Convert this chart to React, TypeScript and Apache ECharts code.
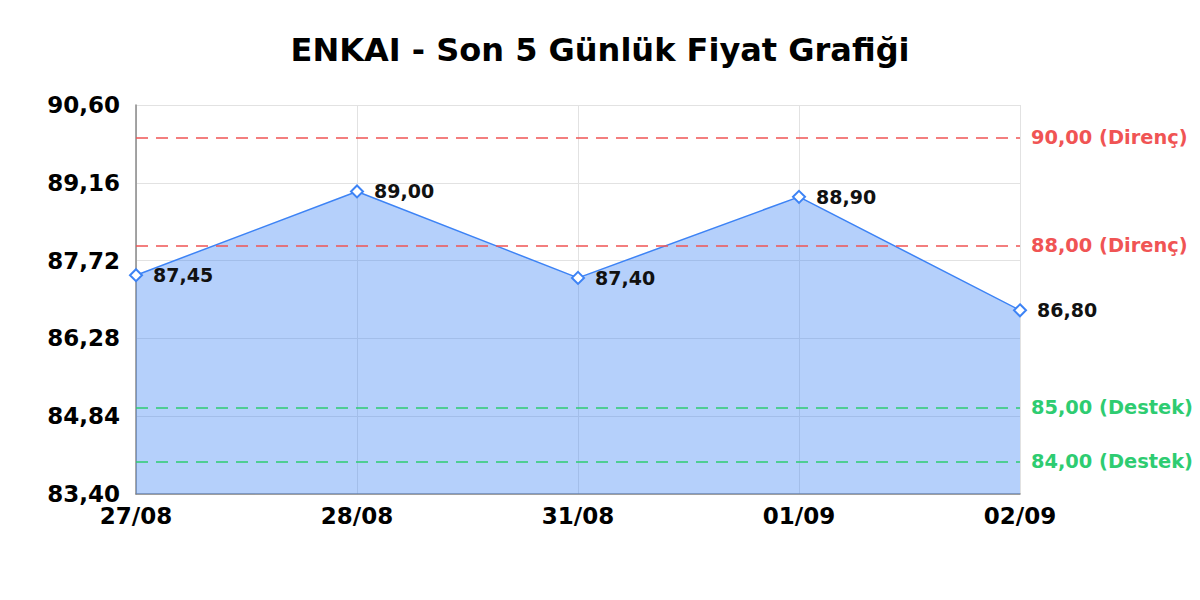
import React, { useEffect, useRef } from "react";
import * as echarts from "echarts";

const categories = ["27/08", "28/08", "31/08", "01/09", "02/09"];
const prices = [87.45, 89.0, 87.4, 88.9, 86.8];
const resistanceLevels = [90, 88];
const supportLevels = [85, 84];
const yMin = 83.4;
const yMax = 90.6;
const yInterval = 1.44;
const titleText = "ENKAI - Son 5 Günlük Fiyat Grafiği";

const fmt = (v: number) => v.toFixed(2).replace(".", ",");

const FONT = "DejaVu Sans";
const RED = "#f05454";
const GREEN = "#2ecc71";

export default function App() {
  const ref = useRef<HTMLDivElement>(null);
  useEffect(() => {
    if (!ref.current) return;
    const chart = echarts.init(ref.current, undefined, { renderer: "svg" });
    const markData: any[] = [
      ...resistanceLevels.map((v) => ({
        yAxis: v,
        lineStyle: { color: RED, type: [12, 8], width: 1.5 },
        label: { color: RED, formatter: `${fmt(v)} (Direnç)` },
      })),
      ...supportLevels.map((v) => ({
        yAxis: v,
        lineStyle: { color: GREEN, type: [12, 8], width: 1.5 },
        label: { color: GREEN, formatter: `${fmt(v)} (Destek)` },
      })),
    ];
    chart.setOption({
      animation: false,
      backgroundColor: "#ffffff",
      textStyle: { fontFamily: FONT },
      title: {
        text: titleText,
        left: "center",
        top: 29,
        textStyle: { fontFamily: FONT, fontWeight: "bold", fontSize: 32, color: "#000" },
      },
      grid: { left: 136, right: 180, top: 105, bottom: 106 },
      xAxis: {
        type: "category",
        data: categories,
        boundaryGap: false,
        axisLine: { show: true, lineStyle: { color: "#888", width: 1.5 } },
        axisTick: { show: false },
        axisLabel: { fontFamily: FONT, fontWeight: "bold", fontSize: 23, color: "#000", margin: 10 },
        splitLine: { show: true, lineStyle: { color: "#e2e2e2", width: 1 } },
      },
      yAxis: {
        type: "value",
        min: yMin,
        max: yMax,
        interval: yInterval,
        axisLine: { show: true, lineStyle: { color: "#888", width: 1.5 } },
        axisTick: { show: false },
        axisLabel: {
          fontFamily: FONT,
          fontWeight: "bold",
          fontSize: 23,
          color: "#000",
          margin: 16,
          formatter: (v: number) => fmt(v),
        },
        splitLine: { show: true, lineStyle: { color: "#e2e2e2", width: 1 } },
      },
      series: [
        {
          type: "line",
          data: prices,
          symbol: "emptyDiamond",
          symbolSize: 12,
          lineStyle: { color: "#3d83f5", width: 1.5 },
          itemStyle: { color: "#3d83f5", borderWidth: 2.5 },
          areaStyle: { color: "rgba(61,131,245,0.38)", opacity: 1 },
          label: {
            show: true,
            position: "right",
            distance: 10,
            fontFamily: FONT,
            fontWeight: "bold",
            fontSize: 19,
            color: "#111",
            formatter: (p: any) => fmt(p.value),
          },
          markLine: {
            silent: true,
            symbol: "none",
            label: {
              show: true,
              position: "end",
              distance: 11,
              fontFamily: FONT,
              fontWeight: "bold",
              fontSize: 19.4,
            },
            data: markData,
          },
        },
      ],
    });
    return () => chart.dispose();
  }, []);
  return <div ref={ref} style={{ width: 1200, height: 600, margin: -8 }} />;
}
